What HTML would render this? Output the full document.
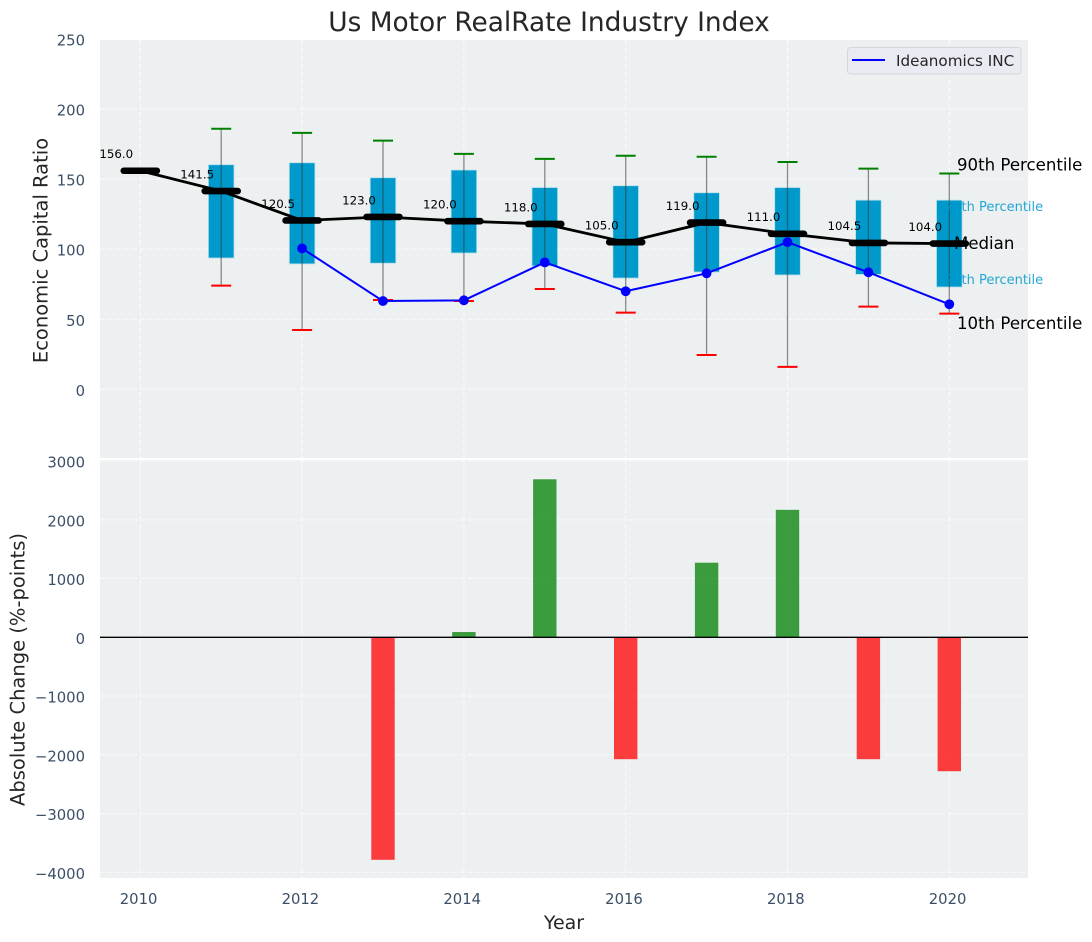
<!DOCTYPE html>
<html>
<head>
<meta charset="utf-8">
<title>Us Motor RealRate Industry Index</title>
<style>
html,body{margin:0;padding:0;background:#fff;width:1092px;height:942px;overflow:hidden}
svg{display:block}
text{font-family:"DejaVu Sans","Liberation Sans",sans-serif}
</style>
</head>
<body>
<svg id="chart" xmlns="http://www.w3.org/2000/svg" width="1092" height="942" viewBox="0 0 1092 942"></svg>
<script>
const years = [2010, 2011, 2012, 2013, 2014, 2015, 2016, 2017, 2018, 2019, 2020];
const medians = [156, 141.5, 120.5, 123, 120, 118, 105, 119, 111, 104.5, 104];
const p90 = [null, 186, 183, 177.5, 168, 164.5, 166.7, 166, 162.2, 157.5, 154];
const p75 = [null, 160.3, 161.7, 151, 156.5, 144, 145.3, 140.3, 144, 135, 135];
const p25 = [null, 93.7, 89.5, 90, 97.3, 88, 79.4, 83.7, 81.6, 82, 73];
const p10 = [null, 74, 42.3, 63.7, 63, 71.6, 54.7, 24.5, 16, 59, 54];
const company = [null, null, 100.6, 63, 63.5, 90.6, 70, 82.8, 105, 83.5, 60.7];
const changes = [null, null, null, -3788, 90, 2690, -2075, 1270, 2170, -2075, -2280];
const topTicks = [0, 50, 100, 150, 200, 250];
const bottomTicks = [-4000, -3000, -2000, -1000, 0, 1000, 2000, 3000];
const xTicks = [2010, 2012, 2014, 2016, 2018, 2020];

const NS = 'http://www.w3.org/2000/svg';
const svg = document.getElementById('chart');
const L = 100, R = 1028, T1 = 40, B1 = 458, T2 = 460, B2 = 878;
const x = y => 140.3 + (y - 2010) * 80.9;
const y1 = v => 389.3 - v * 1.401;
const y2 = v => 637.3 - v * 0.05874;
const minus = v => String(v).replace('-', '\u2212');

function node(tag, attrs, parent, content) {
  const el = document.createElementNS(NS, tag);
  for (const k in attrs) el.setAttribute(k, attrs[k]);
  if (content !== undefined) el.textContent = content;
  (parent || svg).appendChild(el);
  return el;
}
function group(name) {
  const g = node('g', {});
  
  
  return g;
}

const bgs = group('plot-backgrounds');
node('rect', {x: L, y: T1, width: R - L, height: B1 - T1 + 1, fill: '#ecf0f1'}, bgs);
node('rect', {x: L, y: T2 - 1, width: R - L, height: B2 - T2 + 1, fill: '#ecf0f1'}, bgs);
node('line', {x1: L, x2: R, y1: 459, y2: 459, stroke: '#fff', 'stroke-width': 2}, bgs);

const grid = group('grid-lines');
const gridStyle = {stroke: '#fff', 'stroke-width': 1, 'stroke-dasharray': '5 3', 'stroke-opacity': 0.75};
topTicks.forEach(v => {
  node('line', Object.assign({x1: L, x2: R, y1: y1(v), y2: y1(v)}, gridStyle), grid);
});
bottomTicks.forEach(v => {
  node('line', Object.assign({x1: L, x2: R, y1: y2(v), y2: y2(v)}, gridStyle), grid);
});
xTicks.forEach(t => {
  node('line', Object.assign({x1: x(t), x2: x(t), y1: T1, y2: B1}, gridStyle), grid);
  node('line', Object.assign({x1: x(t), x2: x(t), y1: T2, y2: B2}, gridStyle), grid);
});

const ticks = group('tick-labels');
topTicks.forEach(v => {
  const t = node('text', {x: 85, y: y1(v) + 6.5, 'text-anchor': 'end', 'font-size': 14.8, fill: '#3b4f66'}, ticks, String(v));
  
  
});
bottomTicks.forEach(v => {
  const t = node('text', {x: 85, y: y2(v) + 6.5, 'text-anchor': 'end', 'font-size': 14.8, fill: '#3b4f66'}, ticks, minus(v));
  
  
});
xTicks.forEach(v => {
  const t = node('text', {x: x(v) - 1.7, y: 904, 'text-anchor': 'middle', 'font-size': 14.8, fill: '#3b4f66'}, ticks, String(v));
  
  
});

const annotations = group('percentile-annotations');
const a90 = node('text', {x: 957, y: 170.5, 'font-size': 16.6, fill: '#000'}, annotations, '90th Percentile');



const boxes = group('percentile-boxes');
years.forEach((yr, i) => {
  if (p75[i] === null) return;
  const r = node('rect', {x: x(yr) - 12.8, y: y1(p75[i]), width: 25.6, height: y1(p25[i]) - y1(p75[i]), fill: '#0099cc', stroke: '#b8dfe9', 'stroke-width': 0.8}, boxes);
  
  
});

const a75 = node('text', {x: 945, y: 211, 'font-size': 13, fill: '#0099cc', 'fill-opacity': 0.85}, annotations, '75th Percentile');


const a25 = node('text', {x: 945, y: 284, 'font-size': 13, fill: '#0099cc', 'fill-opacity': 0.85}, annotations, '25th Percentile');


svg.appendChild(annotations);

const whiskers = group('whiskers');
years.forEach((yr, i) => {
  if (p90[i] === null) return;
  node('line', {x1: x(yr), x2: x(yr), y1: y1(p90[i]), y2: y1(p10[i]), stroke: '#333', 'stroke-opacity': 0.55, 'stroke-width': 1.3}, whiskers);
  node('line', {x1: x(yr) - 10, x2: x(yr) + 10, y1: y1(p90[i]), y2: y1(p90[i]), stroke: '#008000', 'stroke-width': 2}, whiskers);
  node('line', {x1: x(yr) - 10, x2: x(yr) + 10, y1: y1(p10[i]), y2: y1(p10[i]), stroke: '#ff0000', 'stroke-width': 2}, whiskers);
});

const medianLine = node('polyline', {
  points: years.map((yr, i) => x(yr) + ',' + y1(medians[i])).join(' '),
  fill: 'none', stroke: '#000', 'stroke-width': 2.8
});



const companyPts = years.map((yr, i) => company[i] === null ? null : [x(yr), y1(company[i])]).filter(p => p);
const companyLine = node('polyline', {
  points: companyPts.map(p => p.join(',')).join(' '),
  fill: 'none', stroke: '#0000ff', 'stroke-width': 2
});


const companyDots = group('ideanomics-points');
companyPts.forEach(p => {
  node('circle', {cx: p[0], cy: p[1], r: 4.9, fill: '#0000ff'}, companyDots);
});

const medianMarks = group('median-marks');
years.forEach((yr, i) => {
  node('line', {x1: x(yr) - 16.5, x2: x(yr) + 16.5, y1: y1(medians[i]), y2: y1(medians[i]), stroke: '#000', 'stroke-width': 6.6, 'stroke-linecap': 'round'}, medianMarks);
});

const medianLabels = group('median-value-labels');
years.forEach((yr, i) => {
  node('text', {x: x(yr) - 24, y: y1(medians[i]) - 12.7, 'text-anchor': 'middle', 'font-size': 11.8, fill: '#000'}, medianLabels, medians[i].toFixed(1));
});

const aMed = node('text', {x: 954, y: 249, 'font-size': 16.6, fill: '#000'}, annotations, 'Median');


const a10 = node('text', {x: 957, y: 329, 'font-size': 16.6, fill: '#000'}, annotations, '10th Percentile');


svg.appendChild(annotations);

const bars = group('change-bars');
years.forEach((yr, i) => {
  if (changes[i] === null) return;
  const v = changes[i];
  const top = Math.min(y2(v), y2(0));
  const r = node('rect', {x: x(yr) - 11.7, y: top, width: 23.4, height: Math.abs(y2(v) - y2(0)), fill: v >= 0 ? '#008000' : '#ff0000', 'fill-opacity': 0.75}, bars);
  
  
});
const zero = node('line', {x1: L, x2: R, y1: y2(0), y2: y2(0), stroke: '#000', 'stroke-width': 1.3});



const title = node('text', {x: 549, y: 31, 'text-anchor': 'middle', 'font-size': 26.4, fill: '#262626'}, svg, 'Us Motor RealRate Industry Index');


const yTop = node('text', {x: 0, y: 0, transform: 'translate(47.5,250.5) rotate(-90)', 'text-anchor': 'middle', 'font-size': 19.5, fill: '#262626'}, svg, 'Economic Capital Ratio');


const yBot = node('text', {x: 0, y: 0, transform: 'translate(24.5,669.5) rotate(-90)', 'text-anchor': 'middle', 'font-size': 19.5, fill: '#262626'}, svg, 'Absolute Change (%-points)');


const xTitle = node('text', {x: 564, y: 929, 'text-anchor': 'middle', 'font-size': 19, fill: '#262626'}, svg, 'Year');



const legend = group('legend');
node('rect', {x: 847.5, y: 47.5, width: 173.5, height: 26.5, rx: 3, fill: '#eaeaf2', stroke: '#d6d6d9', 'stroke-width': 1}, legend);
node('line', {x1: 852, x2: 885, y1: 60, y2: 60, stroke: '#0000ff', 'stroke-width': 2}, legend);
node('text', {x: 896, y: 66, 'font-size': 15.2, fill: '#262626'}, legend, 'Ideanomics INC');
</script>
</body>
</html>
